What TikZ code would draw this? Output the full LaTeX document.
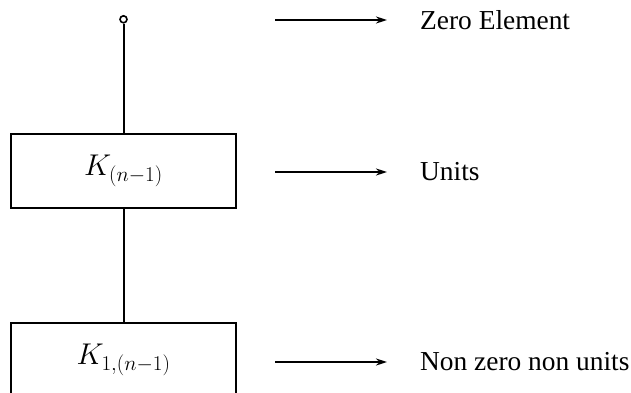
\RequirePackage{fix-cm}
\documentclass[tikz,border=0pt]{standalone}
\usepackage[no-math]{fontspec}
\setmainfont{Liberation Serif}
\usetikzlibrary{arrows.meta}
\begin{document}
\begin{tikzpicture}[x=1pt,y=-1pt,
  level/.style={draw,line width=2pt,minimum width=225pt,minimum height=74pt,inner sep=0pt,font=\fontsize{30}{36}\selectfont},
  conn/.style={line width=2pt},
  pointer/.style={line width=2pt,-{Stealth[length=11pt,width=7pt]}},
  lbl/.style={anchor=west,inner sep=0pt,font=\fontsize{27.4}{32}\selectfont}]
\useasboundingbox (0,0) rectangle (631,393);
\clip (0,0) rectangle (631,393);
\node[circle,draw,line width=1.6pt,minimum size=7pt,inner sep=0pt] (zero) at (123.5,19.3) {};
\node[level] (units) at (123.5,171) {$K_{(n-1)}$};
\node[level] (nz) at (123.5,360) {$K_{1,(n-1)}$};
\draw[conn] (zero.south) -- (units.north);
\draw[conn] (units.south) -- (nz.north);
\coordinate (a1) at (275,20);
\coordinate (b1) at (387,20);
\coordinate (a2) at (275,172);
\coordinate (b2) at (387,172);
\coordinate (a3) at (275,362);
\coordinate (b3) at (387,362);
\draw[pointer] (a1) -- (b1);
\draw[pointer] (a2) -- (b2);
\draw[pointer] (a3) -- (b3);
\node[lbl] (t1) at (420,20) {Zero Element};
\node[lbl] (t2) at (420,172) {Units};
\node[lbl] (t3) at (420,362) {Non zero non units};
\end{tikzpicture}
\end{document}
